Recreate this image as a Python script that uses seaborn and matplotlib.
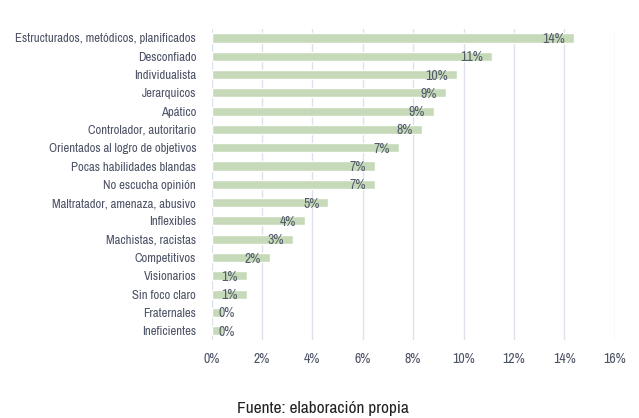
import pandas as pd
import seaborn as sns
import matplotlib.pyplot as plt
from matplotlib import font_manager
from matplotlib.ticker import FuncFormatter

# data (percent)
categorias = ['Estructurados, metódicos, planificados', 'Desconfiado', 'Individualista',
              'Jerarquicos', 'Apático', 'Controlador, autoritario',
              'Orientados al logro de objetivos', 'Pocas habilidades blandas',
              'No escucha opinión', 'Maltratador, amenaza, abusivo', 'Inflexibles',
              'Machistas, racistas', 'Competitivos', 'Visionarios', 'Sin foco claro',
              'Fraternales', 'Ineficientes']
porcentajes = [14.4, 11.15, 9.76, 9.3, 8.83, 8.36, 7.43, 6.5, 6.5, 4.64, 3.71, 3.25,
               2.33, 1.39, 1.39, 0.46, 0.46]
etiquetas = ['14%', '11%', '10%', '9%', '9%', '8%', '7%', '7%', '7%', '5%', '4%', '3%',
             '2%', '1%', '1%', '0%', '0%']
ticks_x = [0, 2, 4, 6, 8, 10, 12, 14, 16]

df = pd.DataFrame({'Categoria': categorias, 'Porcentaje': porcentajes})

sns.set_theme(style='white')

# look for a narrow font, the reference uses an Arial Narrow like face
fam, stretch, k = 'Roboto', 'normal', 0.8
for f in font_manager.fontManager.ttflist:
    if 'Narrow' in f.name or 'Condensed' in f.name:
        fam, stretch, k = f.name, 'normal', 1.0
        break
else:
    for f in font_manager.fontManager.ttflist:
        if f.stretch in ('condensed', 'semi-condensed', 'extra-condensed') and f.style == 'normal':
            fam, stretch, k = f.name, f.stretch, 0.95
            break
plt.rcParams['font.family'] = [fam, 'DejaVu Sans']
plt.rcParams['font.stretch'] = stretch

texto = '#4d5366'
fig = plt.figure(figsize=(6.39, 4.18), dpi=100)
ax = fig.add_axes([0.331, 0.187, 0.631, 0.744])
sns.barplot(data=df, x='Porcentaje', y='Categoria', orient='h', color='#c6dab9',
            width=0.5, saturation=1, ax=ax)

# labels at the inside end of each bar, short bars get them just right of the axis
for i, (v, lab) in enumerate(zip(porcentajes, etiquetas)):
    if v > 1.0:
        ax.annotate(lab, (v, i), xytext=(-9, -1), textcoords='offset pixels',
                    ha='right', va='center', fontsize=10 * k, color='#535b6b')
    else:
        ax.annotate(lab, (0, i), xytext=(7, -1), textcoords='offset pixels',
                    ha='left', va='center', fontsize=10 * k, color='#535b6b')

ax.set_xlim(0, 16)
ax.set_xticks(ticks_x)
ax.xaxis.set_major_formatter(FuncFormatter(lambda v, p: f'{v:.0f}%'))
ax.grid(axis='x', color='#dde1ec', linewidth=1)
ax.set_axisbelow(True)
for s in ax.spines.values():
    s.set_visible(False)
ax.set_xlabel('')
ax.set_ylabel('')
ax.tick_params(axis='both', length=0, colors=texto)
ax.tick_params(axis='y', pad=11, labelsize=9.2 * k)
ax.tick_params(axis='x', pad=9, labelsize=10 * k)

fig.text(0.506, 0.012, 'Fuente: elaboración propia', ha='center', va='baseline',
         fontsize=12.5 * k, color='#222222')

plt.savefig('out.png', dpi=100)
